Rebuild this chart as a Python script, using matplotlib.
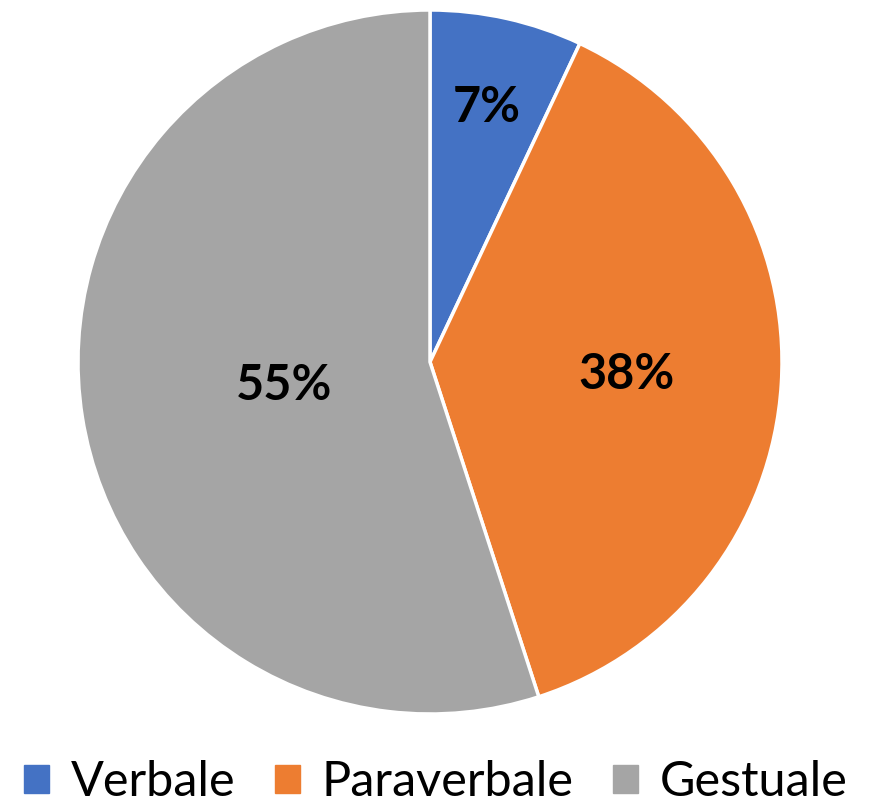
import matplotlib.pyplot as plt
import numpy as np

labels = ['Verbale', 'Paraverbale', 'Gestuale']
values = [7, 38, 55]
colors = ['#4472C4', '#ED7D31', '#A5A5A5']
label_radius = [0.74, 0.56, 0.42]

font = 'Lato'

fig = plt.figure(figsize=(8.72, 8.08), dpi=100)
ax = fig.add_axes([78 / 872, 94 / 808, 704 / 872, 704 / 808])

wedges, _ = ax.pie(values, colors=colors, startangle=90, counterclock=False,
                   wedgeprops=dict(edgecolor='white', linewidth=2.5))
ax.set_xlim(-1, 1)
ax.set_ylim(-1, 1)
ax.set_aspect('equal')

for w, v, r in zip(wedges, values, label_radius):
    ang = np.deg2rad((w.theta1 + w.theta2) / 2)
    ax.text(r * np.cos(ang), r * np.sin(ang), f'{v}%', ha='center', va='center',
            fontsize=35, fontweight='bold', family=font)

handles = [plt.Rectangle((0, 0), 1, 1, color=c) for c in colors]
fig.legend(handles, labels, loc='center', ncol=3, frameon=False,
           prop=dict(family=font, size=35), bbox_to_anchor=(0.5, 1 - 782 / 808),
           borderpad=0, handlelength=0.52, handleheight=0.52, handletextpad=0.45,
           columnspacing=0.8)

fig.savefig('out.png', dpi=100)
